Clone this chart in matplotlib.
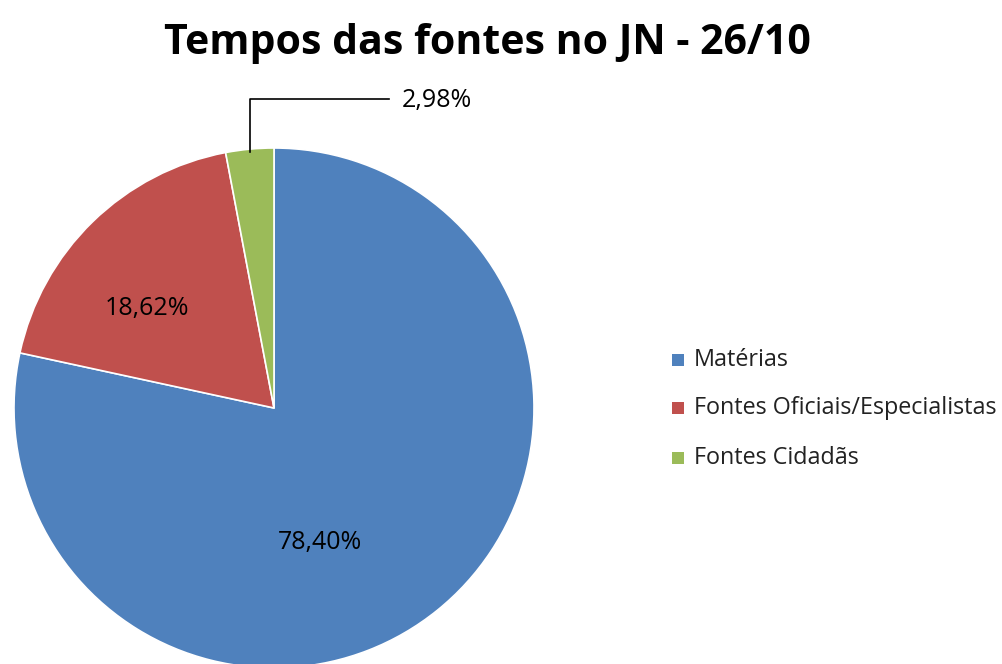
import matplotlib
matplotlib.use('Agg')
import matplotlib.pyplot as plt
from matplotlib.patches import Rectangle

# Data
categories = ['Matérias', 'Fontes Oficiais/Especialistas', 'Fontes Cidadãs']
values = [78.40, 18.62, 2.98]
labels = ['78,40%', '18,62%', '2,98%']
colors = ['#4F81BD', '#C0504D', '#9BBB59']

W, H = 1002, 664
fig = plt.figure(figsize=(W / 100, H / 100), dpi=100)
ax = fig.add_axes([0, 0, 1, 1])

font = 'Open Sans'

# Pie (pixel coords, y measured from bottom)
cx, cy, r = 274, H - 408, 260
wedges, _ = ax.pie(values, colors=colors, startangle=90, counterclock=False,
                   center=(cx, cy), radius=r, frame=True,
                   wedgeprops=dict(edgecolor='white', linewidth=1.2))
ax.set_xlim(0, W)
ax.set_ylim(0, H)
ax.set_aspect('equal')
ax.axis('off')

# Data labels
ax.text(320, H - 543, labels[0], ha='center', va='center', fontsize=18, family=font, color='black')
ax.text(147, H - 308, labels[1], ha='center', va='center', fontsize=18, family=font, color='black')
# leader line for small slice
ax.plot([250, 250, 389], [H - 152, H - 99, H - 99], color='black', linewidth=1.2)
ax.text(402, H - 100, labels[2], ha='left', va='center', fontsize=18, family=font, color='black')

# Title
ax.text(487, H - 43, 'Tempos das fontes no JN - 26/10', ha='center', va='center',
        fontsize=29.5, fontweight='bold', family=font, color='black')

# Legend
legend_y = [360, 408, 458]
for cat, col, ly in zip(categories, colors, legend_y):
    ax.add_patch(Rectangle((672, H - ly - 6), 12, 12, facecolor=col, edgecolor='none'))
    ax.text(694, H - ly, cat, ha='left', va='center', fontsize=16.8, family=font, color='#222222')

fig.savefig('out.png', dpi=100)
